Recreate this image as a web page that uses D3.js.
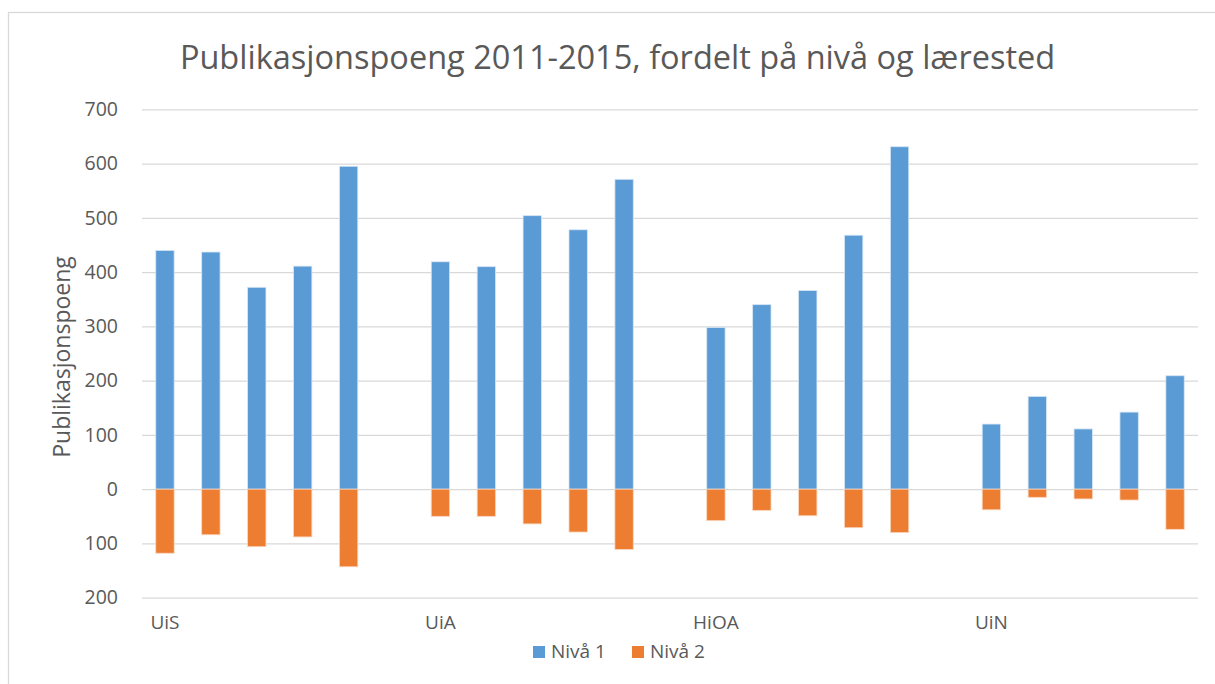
<!DOCTYPE html>
<html>
<head>
<meta charset="utf-8">
<script src="https://cdn.jsdelivr.net/npm/d3@7"></script>
<style>
  body { margin: 0; background: #fff; }
  text { font-family: "Open Sans", sans-serif; fill: #595959; }
</style>
</head>
<body>
<svg id="graf" width="1215" height="684"></svg>
<script>
// data
const institutions = ["UiS", "UiA", "HiOA", "UiN"];
const years = ["2011", "2012", "2013", "2014", "2015"];
// Nivå 1 per lærested, år 2011-2015
const niva1 = [
  440, 437, 372, 411, 595,
  419, 410, 504, 478, 571,
  298, 340, 366, 468, 631,
  120, 171, 111, 142, 209
];
// Nivå 2 (vises under null-linja)
const niva2 = [
  118, 84, 106, 88, 143,
  50, 50, 64, 79, 111,
  58, 39, 49, 71, 80,
  38, 15, 18, 20, 74
];
const yTicks = [-200, -100, 0, 100, 200, 300, 400, 500, 600, 700];
const seriesNames = ["Nivå 1", "Nivå 2"];
const colors = ["#5b9bd5", "#ed7d31"];

// rows: one per institution/year
const rows = [];
institutions.forEach((inst, i) => {
  years.forEach((yr, j) => {
    rows.push({ key: inst + " " + yr, inst: inst, first: j == 0,
                n1: niva1[i * 5 + j], n2: niva2[i * 5 + j] });
  });
});

// category slots with one empty slot between groups
const slots = [];
institutions.forEach((inst, i) => {
  years.forEach(yr => slots.push(inst + " " + yr));
  if (i < institutions.length - 1) slots.push("gap" + i);
});

const svg = d3.select("#graf");

// chart border
svg.append("rect")
  .attr("x", 8.5).attr("y", 12.5)
  .attr("width", 1220).attr("height", 700)
  .attr("fill", "none").attr("stroke", "#d9d9d9").attr("stroke-width", 1.3);

const xScale = d3.scaleBand()
  .domain(slots)
  .range([142, 1198])
  .padding(0);

const yScale = d3.scaleLinear()
  .domain([-200, 700])
  .range([597.7, 109.3]);

const barW = xScale.bandwidth() * 0.4;

// gridlines + y labels
const yAxis = d3.axisLeft(yScale)
  .tickValues(yTicks)
  .tickSize(-(1198 - 142))
  .tickPadding(24)
  .tickFormat(d => Math.abs(d));

svg.append("g")
  .attr("class", "axis")
  .attr("transform", "translate(142,0)")
  .call(yAxis)
  .call(g => g.select(".domain").remove())
  .call(g => g.selectAll("line").attr("stroke", "#d9d9d9").attr("stroke-width", 1.3))
  .call(g => g.selectAll("text")
    .style("font-family", "Open Sans, sans-serif")
    .style("font-size", "19.5px").attr("fill", "#595959"));

// bars
svg.selectAll("rect.n1")
  .data(rows)
  .enter()
  .append("rect")
  .attr("class", "n1")
  .attr("x", d => xScale(d.key) + xScale.bandwidth() / 2 - barW / 2)
  .attr("y", d => yScale(d.n1))
  .attr("width", barW)
  .attr("height", d => yScale(0) - yScale(d.n1))
  .attr("fill", colors[0])
  .attr("stroke", "#d6e6f5").attr("stroke-width", 0.8);

svg.selectAll("rect.n2")
  .data(rows)
  .enter()
  .append("rect")
  .attr("class", "n2")
  .attr("x", d => xScale(d.key) + xScale.bandwidth() / 2 - barW / 2)
  .attr("y", yScale(0))
  .attr("width", barW)
  .attr("height", d => yScale(-d.n2) - yScale(0))
  .attr("fill", colors[1])
  .attr("stroke", "#f9d5bd").attr("stroke-width", 0.8);

// institution labels under first bar of each group
svg.selectAll("text.cat")
  .data(rows.filter(d => d.first))
  .enter()
  .append("text")
  .attr("class", "cat")
  .attr("x", d => xScale(d.key) + xScale.bandwidth() / 2)
  .attr("y", 629)
  .attr("text-anchor", "middle")
  .style("font-size", "19px")
  .text(d => d.inst);

// title
svg.append("text")
  .attr("x", 617.5)
  .attr("y", 69)
  .attr("text-anchor", "middle")
  .style("font-size", "32.5px")
  .text("Publikasjonspoeng 2011-2015, fordelt på nivå og lærested");

// y axis title
svg.append("text")
  .attr("transform", "translate(70,357) rotate(-90)")
  .attr("text-anchor", "middle")
  .style("font-size", "23px")
  .text("Publikasjonspoeng");

// legend
const legendX = [533, 632];
const legend = svg.selectAll("g.legend")
  .data(seriesNames)
  .enter()
  .append("g")
  .attr("class", "legend")
  .attr("transform", (d, i) => "translate(" + legendX[i] + ",646)");

legend.append("rect")
  .attr("width", 12).attr("height", 12)
  .attr("fill", (d, i) => colors[i]);

legend.append("text")
  .attr("x", 18).attr("y", 12)
  .style("font-size", "19px")
  .text(d => d);
</script>
</body>
</html>
